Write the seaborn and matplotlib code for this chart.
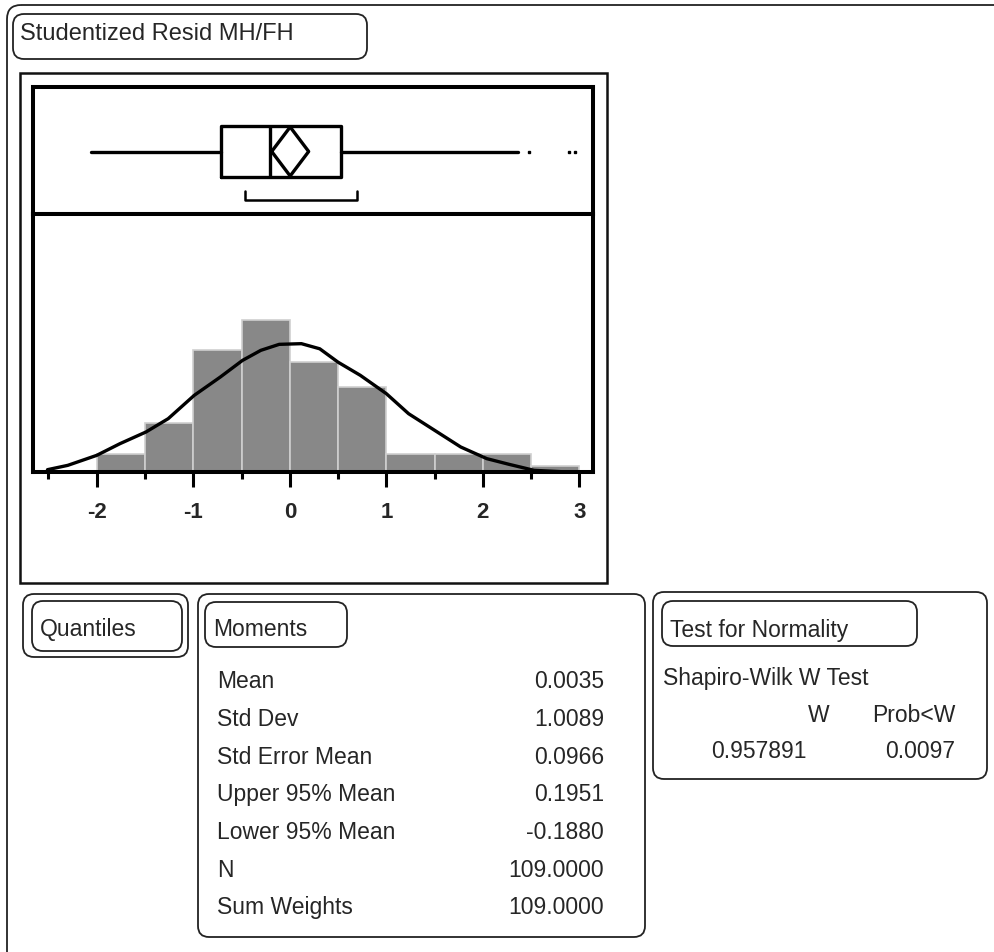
import matplotlib
matplotlib.use("Agg")
import matplotlib.pyplot as plt
from matplotlib.patches import FancyBboxPatch, Rectangle
import seaborn as sns

# histogram of studentized residuals
bin_edges = [-2.0, -1.5, -1.0, -0.5, 0.0, 0.5, 1.0, 1.5, 2.0, 2.5, 3.0]
bin_counts = [3, 8, 20, 25, 18, 14, 3, 3, 3, 1]

# smooth density curve (count units)
curve_x = [-2.51, -2.30, -2.00, -1.76, -1.49, -1.26, -0.99, -0.72, -0.49, -0.30,
           -0.11, 0.12, 0.31, 0.50, 0.73, 1.00, 1.23, 1.50, 1.77, 2.04, 2.27, 2.53, 2.88]
curve_y = [0.38, 1.09, 2.73, 4.64, 6.56, 8.74, 12.57, 15.57, 18.3, 19.95,
           20.93, 21.04, 20.2, 18.0, 15.85, 12.84, 9.56, 6.83, 4.1, 2.19, 1.26, 0.27, 0.0]

# outlier box plot
box_stats = dict(whislo=-2.055, q1=-0.713, med=-0.207, q3=0.533, whishi=2.36,
                 fliers=[2.48, 2.89, 2.95])
mean_val = 0.0035
mean_ci = [-0.1880, 0.1951]
shortest_half = [-0.464, 0.694]

major_ticks = [-2, -1, 0, 1, 2, 3]
minor_ticks = [-2.5, -1.5, -0.5, 0.5, 1.5, 2.5]

moment_names = ["Mean", "Std Dev", "Std Error Mean", "Upper 95% Mean",
                "Lower 95% Mean", "N", "Sum Weights"]
moment_values = ["0.0035", "1.0089", "0.0966", "0.1951", "-0.1880",
                 "109.0000", "109.0000"]

sw_w = "0.957891"
sw_p = "0.0097"

sns.set_style("white")
plt.rcParams["font.family"] = ["Liberation Sans", "DejaVu Sans"]
plt.rcParams["axes.unicode_minus"] = False

W, H = 995, 953
fig = plt.figure(figsize=(W / 100, H / 100), dpi=100)

# canvas in pixel coords for the report frames and texts
cv = fig.add_axes([0, 0, 1, 1], zorder=0)
cv.set_xlim(0, W)
cv.set_ylim(H, 0)
cv.axis("off")

def rbox(x0, y0, x1, y1, r=11, lw=1.3):
    cv.add_patch(FancyBboxPatch((x0, y0), x1 - x0, y1 - y0,
                                boxstyle=f"round,pad=0,rounding_size={r}",
                                fill=False, ec="#222222", lw=lw))

fs = 16.5
rbox(7, 6, 1030, 990, r=14)
rbox(13, 15, 367, 60)
cv.text(20, 39.5, "Studentized Resid MH/FH", fontsize=17, va="baseline")
cv.add_patch(Rectangle((20, 74), 587, 510, fill=False, ec="#111111", lw=1.8))

# quantiles (collapsed)
rbox(23, 595, 188, 658)
rbox(32, 602, 182, 652)
cv.text(40, 636, "Quantiles", fontsize=fs, va="baseline")

# moments
rbox(198, 595, 645, 938)
rbox(205, 603, 347, 648)
cv.text(213, 636, "Moments", fontsize=fs, va="baseline")
for i, (nm, vl) in enumerate(zip(moment_names, moment_values)):
    yb = 688.3 + i * 37.7
    cv.text(217, yb, nm, fontsize=fs, va="baseline")
    cv.text(604, yb, vl, fontsize=fs, va="baseline", ha="right")

# test for normality
rbox(653, 593, 987, 780)
rbox(662, 602, 917, 647)
cv.text(670, 636.7, "Test for Normality", fontsize=fs, va="baseline")
cv.text(663, 685, "Shapiro-Wilk W Test", fontsize=fs, va="baseline")
cv.text(830, 721.7, "W", fontsize=fs, va="baseline", ha="right")
cv.text(955, 721.7, "Prob<W", fontsize=fs, va="baseline", ha="right")
cv.text(807, 758.3, sw_w, fontsize=fs, va="baseline", ha="right")
cv.text(955, 758.3, sw_p, fontsize=fs, va="baseline", ha="right")

xlim = (-2.66, 3.14)
spine_w = 2.9

# box plot panel
ax_box = fig.add_axes([33 / W, 1 - 215 / H, 560 / W, 127 / H], zorder=2)
ax_box.bxp([box_stats], positions=[62.5], widths=[51.6], orientation="horizontal",
           showcaps=False, showfliers=True,
           boxprops=dict(color="black", lw=2.4),
           whiskerprops=dict(color="black", lw=2.4),
           medianprops=dict(color="black", lw=2.4),
           flierprops=dict(marker="s", markersize=1.8, markerfacecolor="black",
                           markeredgecolor="black", linestyle="none"))
c, hh = 62.5, 24.5
ax_box.plot([mean_ci[0], mean_val, mean_ci[1], mean_val, mean_ci[0]],
            [c, c + hh, c, c - hh, c], color="black", lw=2.4)
ax_box.plot([shortest_half[0], shortest_half[0], shortest_half[1], shortest_half[1]],
            [22.7, 14, 14, 22.7], color="black", lw=1.8)
ax_box.set_xlim(*xlim)
ax_box.set_ylim(0, 127)
ax_box.set_xticks([])
ax_box.set_yticks([])
for s in ax_box.spines.values():
    s.set_linewidth(spine_w)
    s.set_color("black")

# histogram panel
ax_h = fig.add_axes([33 / W, 1 - 473 / H, 560 / W, 258 / H], zorder=2)
mids = [(a + b) / 2 for a, b in zip(bin_edges[:-1], bin_edges[1:])]
sns.histplot(x=mids, weights=bin_counts, bins=bin_edges, stat="count",
             color="#888888", edgecolor="#cfcfcf", linewidth=1.2, alpha=1, ax=ax_h)
sns.lineplot(x=curve_x, y=curve_y, color="black", lw=2.4, ax=ax_h)
ax_h.set_xlim(*xlim)
ax_h.set_ylim(0, 42.3)
ax_h.set_ylabel("")
ax_h.set_xlabel("")
ax_h.set_yticks([])
ax_h.set_xticks(major_ticks)
ax_h.set_xticklabels([str(t) for t in major_ticks], fontsize=16, fontweight="bold")
ax_h.set_xticks(minor_ticks, minor=True)
ax_h.tick_params(axis="x", which="major", bottom=True, length=11, width=2.2,
                 pad=10, color="black")
ax_h.tick_params(axis="x", which="minor", bottom=True, length=5, width=2.2,
                 color="black")
for s in ax_h.spines.values():
    s.set_linewidth(spine_w)
    s.set_color("black")

fig.savefig("out.png", dpi=100)
